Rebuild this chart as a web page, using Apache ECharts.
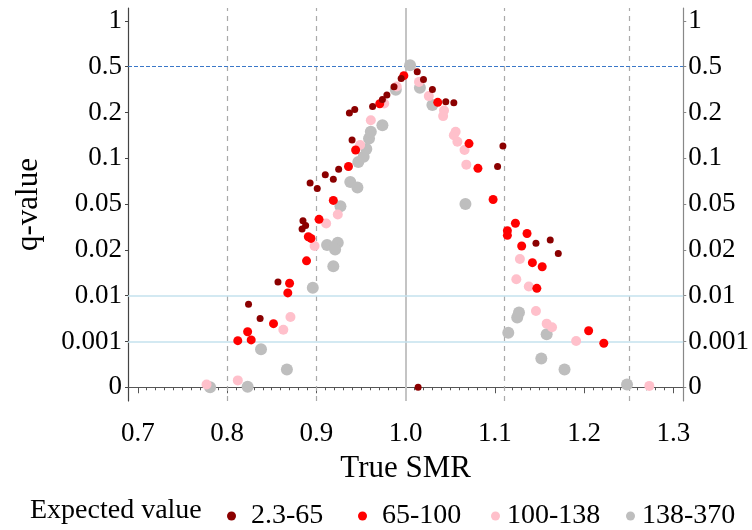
<!DOCTYPE html>
<html>
<head>
<meta charset="utf-8">
<script src="https://cdn.jsdelivr.net/npm/echarts@6/dist/echarts.min.js"></script>
<style>
html, body { margin: 0; padding: 0; background: #fff; }
#chart { width: 752px; height: 530px; }
</style>
</head>
<body>
<div id="chart"></div>
<script>
// y axis: evenly spaced q-value ticks
var qTicks = [0, 0.001, 0.01, 0.02, 0.05, 0.1, 0.2, 0.5, 1];
var qTickLabels = ["0", "0.001", "0.01", "0.02", "0.05", "0.1", "0.2", "0.5", "1"];
var smrTicks = [0.7, 0.8, 0.9, 1.0, 1.1, 1.2, 1.3];
var groups = ["2.3-65", "65-100", "100-138", "138-370"];
var groupColors = ["#8b0000", "#ff0000", "#ffc0cb", "#bebebe"];
var refSmrDashed = [0.8, 0.9, 1.1111, 1.25];
var refSmrSolid = 1.0;
var refQSolid = [0.01, 0.001];
var refQDashed = 0.5;

// Expected value 2.3-65
var smrA = [0.824, 0.837, 0.857, 0.885, 0.888, 0.884, 0.893, 0.901, 0.910, 0.919, 0.925, 0.940, 0.937, 0.943, 0.963, 0.974, 0.979, 0.987, 0.995, 1.013, 1.020, 1.030, 1.045, 1.054, 1.109, 1.103, 1.146, 1.162, 1.171, 1.014];
var qA = [0.0083, 0.0055, 0.013, 0.039, 0.036, 0.0336, 0.073, 0.067, 0.082, 0.077, 0.088, 0.14, 0.199, 0.22, 0.239, 0.285, 0.315, 0.368, 0.423, 0.466, 0.416, 0.351, 0.27, 0.263, 0.1265, 0.091, 0.0243, 0.0264, 0.0192, 0];
// Expected value 65-100
var smrB = [0.812, 0.827, 0.823, 0.852, 0.868, 0.870, 0.889, 0.891, 0.894, 0.903, 0.919, 0.936, 0.944, 0.971, 0.998, 1.036, 1.071, 1.081, 1.098, 1.123, 1.114, 1.114, 1.136, 1.130, 1.142, 1.153, 1.147, 1.205, 1.222];
var qB = [0.00115, 0.0013, 0.0029, 0.0045, 0.0106, 0.0127, 0.0176, 0.0286, 0.0275, 0.04, 0.054, 0.091, 0.118, 0.257, 0.441, 0.266, 0.132, 0.089, 0.055, 0.0374, 0.0325, 0.0295, 0.0307, 0.0225, 0.0172, 0.0163, 0.0116, 0.0031, 0.00096];
// Expected value 100-138
var smrC = [0.777, 0.812, 0.863, 0.871, 0.898, 0.911, 0.924, 0.949, 0.961, 0.976, 0.990, 1.015, 1.026, 1.043, 1.042, 1.056, 1.054, 1.058, 1.066, 1.068, 1.128, 1.124, 1.138, 1.146, 1.158, 1.164, 1.191, 1.273];
var qC = [0.00006, 0.00015, 0.0033, 0.0058, 0.0225, 0.0373, 0.0432, 0.129, 0.183, 0.259, 0.37, 0.4, 0.307, 0.213, 0.192, 0.158, 0.15, 0.136, 0.118, 0.093, 0.018, 0.0136, 0.012, 0.007, 0.0045, 0.0038, 0.0011, 0.00003];
// Expected value 138-370
var smrD = [0.781, 0.823, 0.838, 0.867, 0.896, 0.912, 0.924, 0.921, 0.919, 0.927, 0.938, 0.946, 0.947, 0.953, 0.956, 0.959, 0.961, 0.974, 0.989, 1.005, 1.016, 1.030, 1.067, 1.127, 1.125, 1.115, 1.158, 1.152, 1.178, 1.248];
var qD = [0, 0.00001, 0.00083, 0.00039, 0.0117, 0.0232, 0.0247, 0.0203, 0.0164, 0.0485, 0.074, 0.068, 0.096, 0.103, 0.12, 0.143, 0.158, 0.172, 0.348, 0.516, 0.361, 0.248, 0.05, 0.0067, 0.0057, 0.0027, 0.0024, 0.00063, 0.00039, 0.00006];

// piecewise scale: q-value -> tick position
function qPos(q) {
	for (var i = 0; i < qTicks.length - 1; i++) {
		if (q <= qTicks[i + 1]) {
			return i + (q - qTicks[i]) / (qTicks[i + 1] - qTicks[i]);
		}
	}
	return qTicks.length - 1;
}

function pairs(xs, qs) {
	return xs.map(function (x, i) { return [x, qPos(qs[i])]; });
}

var tickPos = qTicks.map(function (q, i) { return i; });
var minorTicks = [];
for (var k = 70; k <= 130; k++) minorTicks.push(k / 100);

var font = "'Liberation Serif', 'DejaVu Serif', serif";
var chart = echarts.init(document.getElementById("chart"));

var markLines = [];
refSmrDashed.forEach(function (v) {
	markLines.push({ xAxis: v, lineStyle: { color: "#aaaaaa", type: [5, 5], width: 1.2 } });
});
markLines.push({ xAxis: refSmrSolid, lineStyle: { color: "#c4c4c4", type: "solid", width: 2 } });
refQSolid.forEach(function (q) {
	markLines.push({ yAxis: qPos(q), lineStyle: { color: "#c5e2ee", type: "solid", width: 1.5 } });
});
markLines.push({ yAxis: qPos(refQDashed), lineStyle: { color: "#3b78c8", type: [4, 2], width: 1.2 } });

var allData = [pairs(smrD, qD), pairs(smrC, qC), pairs(smrB, qB), pairs(smrA, qA)];
var sizes = [12, 10, 9, 7];
var order = [3, 2, 1, 0];

var series = order.map(function (g, i) {
	var s = {
		name: groups[g],
		type: "scatter",
		data: allData[i],
		symbolSize: sizes[i],
		itemStyle: { color: groupColors[g], opacity: 1 },
		z: 3 + i
	};
	if (i === 0) {
		s.markLine = { silent: true, symbol: "none", label: { show: false }, animation: false, data: markLines, z: 1 };
	}
	return s;
});

var legendX = [222, 353, 486, 621];
var legends = groups.map(function (g, i) {
	return {
		data: [{ name: g, icon: "circle" }],
		left: legendX[i],
		top: 497,
		itemWidth: 9,
		itemHeight: 9,
		itemGap: 0,
		textStyle: { fontFamily: font, fontSize: 28, color: "#000", padding: [0, 0, 0, i < 2 ? 10 : 2] },
		selectedMode: false
	};
});

var option = {
	animation: false,
	grid: { left: 128, right: 68, top: 8, bottom: 129 },
	graphic: [{
		type: "text",
		left: 30,
		top: 497,
		style: { text: "Expected value", font: "28px " + font, fill: "#000" }
	}],
	legend: legends,
	xAxis: [{
		type: "value",
		min: 0.689,
		max: 1.311,
		name: "True SMR",
		nameLocation: "middle",
		nameGap: 52,
		nameTextStyle: { fontFamily: font, fontSize: 31, color: "#000" },
		axisLine: { lineStyle: { color: "#555", width: 1.2 } },
		axisTick: { customValues: smrTicks, length: 6, lineStyle: { color: "#555" } },
		axisLabel: {
			customValues: smrTicks,
			fontFamily: font, fontSize: 27, color: "#000", margin: 19,
			formatter: function (v) { return v.toFixed(1); }
		},
		splitLine: { show: false }
	}, {
		type: "value",
		position: "bottom",
		min: 0.689,
		max: 1.311,
		axisLine: { show: false },
		axisTick: { customValues: minorTicks, length: 3, lineStyle: { color: "#555" } },
		axisLabel: { show: false },
		splitLine: { show: false }
	}],
	yAxis: [{
		type: "value",
		min: -0.3,
		max: 8.28,
		position: "left",
		name: "q-value",
		nameLocation: "middle",
		nameGap: 84,
		nameTextStyle: { fontFamily: font, fontSize: 31, color: "#000" },
		axisLine: { show: true, lineStyle: { color: "#444", width: 1.2 } },
		axisTick: { show: true, customValues: tickPos, length: 3, lineStyle: { color: "#444" } },
		axisLabel: {
			customValues: tickPos,
			fontFamily: font, fontSize: 27, color: "#000", margin: 6,
			formatter: function (v) { return qTickLabels[Math.round(v)]; }
		},
		splitLine: { show: false }
	}, {
		type: "value",
		min: -0.3,
		max: 8.28,
		position: "right",
		axisLine: { show: true, lineStyle: { color: "#888", width: 1.2 } },
		axisTick: { show: true, customValues: tickPos, length: 3, lineStyle: { color: "#888" } },
		axisLabel: {
			customValues: tickPos,
			fontFamily: font, fontSize: 27, color: "#000", margin: 5,
			formatter: function (v) { return qTickLabels[Math.round(v)]; }
		},
		splitLine: { show: false }
	}],
	series: series
};

chart.setOption(option);
</script>
</body>
</html>
